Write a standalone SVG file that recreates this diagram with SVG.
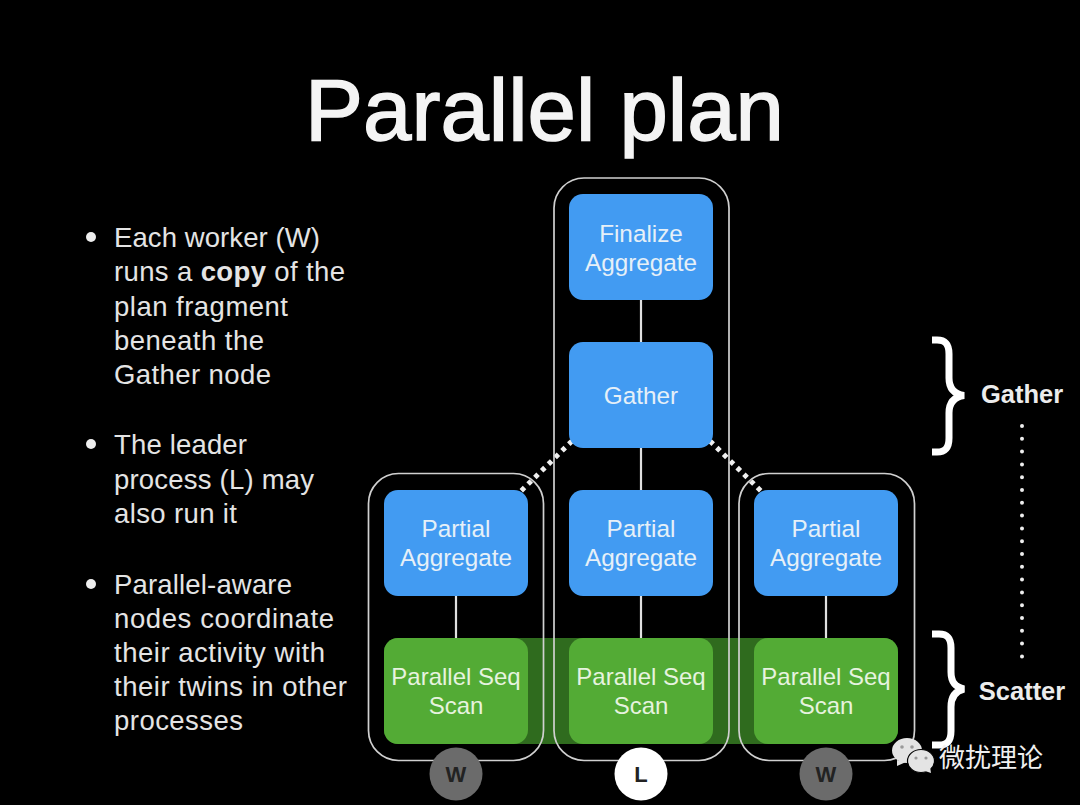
<svg xmlns="http://www.w3.org/2000/svg" width="1080" height="805" viewBox="0 0 1080 805">
<style>
text{font-family:"Liberation Sans",Arial,sans-serif;fill:#eee}
.t{font-size:27.500px;fill:#e4e4e4}
.n{font-size:24.300px;text-anchor:middle;fill:#e6f0f8}
.s{font-size:24px;text-anchor:middle;fill:#e6f3df}
.blue{fill:#429bf2}
.green{fill:#53ab35}
.box{fill:none;stroke:#d0d0d0;stroke-width:1.700}
.link{stroke:#e0e0e0;stroke-width:2.200;fill:none}
.dot{stroke:#f0f0f0;stroke-width:5;stroke-dasharray:4.500 5;fill:none}
.brace{fill:none;stroke:#fff;stroke-width:7}
.lab{font-size:25.500px;font-weight:bold;text-anchor:middle;fill:#ececec}
.c{font-size:22px;text-anchor:middle;font-weight:bold;fill:#222}
</style>
<rect width="1080" height="805" fill="#000"/>
<text x="305" y="140" font-size="87" textLength="479" stroke="#f4f4f4" stroke-width="1.500" style="fill:#f4f4f4">Parallel plan</text>
<g id="bullets">
<circle cx="91" cy="237" r="5" fill="#eee"/><circle cx="91" cy="444" r="5" fill="#eee"/><circle cx="91" cy="584" r="5" fill="#eee"/>
<text class="t" x="114" y="247" textLength="206">Each worker (W)</text>
<text class="t" x="114" y="281" textLength="231">runs a <tspan font-weight="bold">copy</tspan> of the</text>
<text class="t" x="114" y="316" textLength="174">plan fragment</text>
<text class="t" x="114" y="350" textLength="150">beneath the</text>
<text class="t" x="114" y="384" textLength="157">Gather node</text>
<text class="t" x="114" y="454" textLength="133">The leader</text>
<text class="t" x="114" y="489" textLength="200">process (L) may</text>
<text class="t" x="114" y="523" textLength="123">also run it</text>
<text class="t" x="114" y="594" textLength="178">Parallel-aware</text>
<text class="t" x="114" y="628" textLength="220">nodes coordinate</text>
<text class="t" x="114" y="662" textLength="211">their activity with</text>
<text class="t" x="114" y="696" textLength="233">their twins in other</text>
<text class="t" x="114" y="730" textLength="129">processes</text>
</g>
<rect id="scan-band" x="384" y="638" width="514" height="106" rx="14" fill="#2f6b1e"/>
<g id="connectors">
<path class="link" d="M641 300V342M641 448V490M641 596V638M456 596V638M826 596V638"/>
<path class="dot" d="M572 441L520 492M710 441L762 492"/>
</g>
<g id="node-finalize"><rect class="blue" x="569" y="194" width="144" height="106" rx="14"/><text class="n" x="641" y="242">Finalize</text><text class="n" x="641" y="271">Aggregate</text></g>
<g id="node-gather"><rect class="blue" x="569" y="342" width="144" height="106" rx="14"/><text class="n" x="641" y="404">Gather</text></g>
<g id="node-partial-1"><rect class="blue" x="384" y="490" width="144" height="106" rx="14"/><text class="n" x="456" y="537">Partial</text><text class="n" x="456" y="566">Aggregate</text></g>
<g id="node-partial-2"><rect class="blue" x="569" y="490" width="144" height="106" rx="14"/><text class="n" x="641" y="537">Partial</text><text class="n" x="641" y="566">Aggregate</text></g>
<g id="node-partial-3"><rect class="blue" x="754" y="490" width="144" height="106" rx="14"/><text class="n" x="826" y="537">Partial</text><text class="n" x="826" y="566">Aggregate</text></g>
<g id="node-scan-1"><rect class="green" x="384" y="638" width="144" height="106" rx="14"/><text class="s" x="456" y="685">Parallel Seq</text><text class="s" x="456" y="714">Scan</text></g>
<g id="node-scan-2"><rect class="green" x="569" y="638" width="144" height="106" rx="14"/><text class="s" x="641" y="685">Parallel Seq</text><text class="s" x="641" y="714">Scan</text></g>
<g id="node-scan-3"><rect class="green" x="754" y="638" width="144" height="106" rx="14"/><text class="s" x="826" y="685">Parallel Seq</text><text class="s" x="826" y="714">Scan</text></g>
<g id="process-boxes">
<rect class="box" x="368.500" y="473.500" width="175" height="287" rx="30"/>
<rect class="box" x="554" y="178" width="175" height="582.500" rx="30"/>
<rect class="box" x="739" y="473.500" width="175.500" height="287" rx="30"/>
</g>
<g id="process-w1"><circle cx="456" cy="774" r="26.500" fill="#6b6b6b"/><text class="c" x="456" y="782">W</text></g>
<g id="process-l"><circle cx="641" cy="774" r="26.500" fill="#fff"/><text class="c" x="641" y="782">L</text></g>
<g id="process-w2"><circle cx="826" cy="774" r="26.500" fill="#6b6b6b"/><text class="c" x="826" y="782">W</text></g>
<g id="brackets">
<path class="brace" d="M932 340H937C946 340 949 345 949 354V378C949 388 954 394 964 395.500C954 397 949 403 949 413V438C949 447 946 452 937 452H932"/>
<path class="brace" d="M932 634H939C948 634 951 639 951 648V672C951 682 955 687 964 689C955 691 951 697 951 707V731C951 740 948 745 939 745H932"/>
<line x1="1022" y1="426" x2="1022" y2="660" stroke="#eee" stroke-width="4" stroke-linecap="round" stroke-dasharray="0 12.800"/>
<text class="lab" x="1022" y="403">Gather</text>
<text class="lab" x="1022" y="700">Scatter</text>
</g>
<g id="watermark">
<ellipse cx="907" cy="750.500" rx="15" ry="12.500" fill="#e4e4e4"/>
<path d="M897 760L897 766L906 762Z" fill="#e4e4e4"/>
<ellipse cx="921" cy="761" rx="13.500" ry="11.500" fill="#e4e4e4" stroke="#000" stroke-width="1.200"/>
<path d="M925 771L931 773L930 767Z" fill="#e4e4e4"/>
<circle cx="902" cy="747" r="1.800" fill="#999"/><circle cx="912" cy="747" r="1.800" fill="#999"/>
<circle cx="916" cy="758" r="1.600" fill="#999"/><circle cx="926" cy="758" r="1.600" fill="#999"/>
<text x="939" y="767" font-size="26" style="font-family:'Noto Sans CJK SC','Liberation Sans',sans-serif;fill:#f0f0f0">微扰理论</text>
</g>
</svg>
